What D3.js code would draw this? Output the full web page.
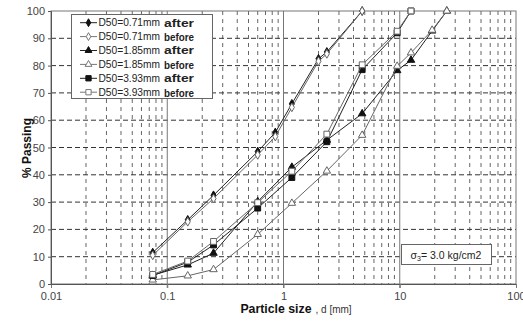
<!DOCTYPE html>
<html><head><meta charset="utf-8">
<script src="https://cdn.jsdelivr.net/npm/d3@7"></script>
<style>
body{margin:0;background:#fff}
svg{font-family:"Liberation Sans",Arial,sans-serif}
</style>
</head><body>
<svg id="c" width="523" height="327"></svg>
<script>
// ---- data ----
const sizes071 = [0.075, 0.15, 0.25, 0.6, 0.85, 1.18, 2.0, 2.36, 4.75];
const pass071After  = [11.5, 23.5, 32.5, 48.5, 55.5, 66.0, 82.5, 85.0, 100];
const pass071Before = [10.5, 22.8, 31.3, 47.3, 54.0, 64.7, 81.6, 84.3, 100];
const sizes185 = [0.075, 0.15, 0.25, 0.6, 1.18, 2.36, 4.75, 9.5, 12.5, 19, 25.4];
const pass185After  = [3.2, 7.0, 11.3, 30.2, 42.8, 52.7, 62.4, 78.2, 82.0, 92.7, 100];
const pass185Before = [1.5, 3.0, 5.3, 18.2, 29.6, 41.4, 54.5, 79.8, 84.7, 93.0, 100];
const sizes393 = [0.075, 0.15, 0.25, 0.6, 1.18, 2.36, 4.75, 9.5, 12.5];
const pass393After  = [3.1, 8.0, 14.3, 27.8, 39.0, 52.1, 78.5, 92.0, 100];
const pass393Before = [3.5, 8.4, 15.6, 29.8, 41.3, 54.9, 80.3, 92.6, 100];
const seriesNames = ["D50=0.71mm", "D50=0.71mm", "D50=1.85mm", "D50=1.85mm", "D50=3.93mm", "D50=3.93mm"];
const seriesStates = ["after", "before", "after", "before", "after", "before"];
const xTicks = [0.01, 0.1, 1, 10, 100];
const xTickLabels = ["0.01", "0.1", "1", "10", "100"];
const yTicks = [0, 10, 20, 30, 40, 50, 60, 70, 80, 90, 100];

const series = [
  {x: sizes071, y: pass071After,  sym: d3.symbolDiamond,  filled: true},
  {x: sizes071, y: pass071Before, sym: d3.symbolDiamond,  filled: false},
  {x: sizes185, y: pass185After,  sym: d3.symbolTriangle, filled: true},
  {x: sizes185, y: pass185Before, sym: d3.symbolTriangle, filled: false},
  {x: sizes393, y: pass393After,  sym: d3.symbolSquare,   filled: true},
  {x: sizes393, y: pass393Before, sym: d3.symbolSquare,   filled: false}
];
series.forEach((s, i) => { s.name = seriesNames[i]; s.state = seriesStates[i]; });

// ---- layout ----
const L = 51, R = 516, T = 11, B = 284;
const svg = d3.select("#c");
const x = d3.scaleLog().domain([0.01, 100]).range([L, R]);
const y = d3.scaleLinear().domain([0, 100]).range([B, T]);

svg.append("rect").attr("x", L).attr("y", T).attr("width", R - L).attr("height", B - T).attr("fill", "#fff");

// grid: minor verticals
const minor = [];
[0.01, 0.1, 1, 10].forEach(d => { for (let k = 2; k <= 9; k++) minor.push(k * d); });
svg.append("g").selectAll("line").data(minor).join("line")
  .attr("x1", d => x(d)).attr("x2", d => x(d)).attr("y1", T).attr("y2", B)
  .attr("stroke", "#666").attr("stroke-width", 1).attr("stroke-dasharray", "4,4");
// horizontal dashed
svg.append("g").selectAll("line").data(yTicks.filter(v => v > 0 && v < 100)).join("line")
  .attr("x1", L).attr("x2", R).attr("y1", d => y(d)).attr("y2", d => y(d))
  .attr("stroke", "#333").attr("stroke-width", 1).attr("stroke-dasharray", "5,3");
// decade solid lines
svg.append("g").selectAll("line").data([0.1, 1, 10]).join("line")
  .attr("x1", d => x(d)).attr("x2", d => x(d)).attr("y1", T).attr("y2", B + 4)
  .attr("stroke", "#777").attr("stroke-width", 1);

// frame
svg.append("rect").attr("x", L).attr("y", T).attr("width", R - L).attr("height", B - T)
  .attr("fill", "none").attr("stroke", "#777");

// axes
const xAxis = d3.axisBottom(x).tickValues(xTicks).tickFormat((d, i) => xTickLabels[i]).tickSize(4).tickPadding(4);
const gx = svg.append("g").attr("transform", `translate(0,${B})`).call(xAxis);
gx.select(".domain").attr("stroke", "#555");
gx.selectAll(".tick line").attr("stroke", "#777");
gx.selectAll("text").attr("font-size", 11).attr("fill", "#444").attr("font-family", "Liberation Sans, Arial, sans-serif");

const yAxis = d3.axisLeft(y).tickValues(yTicks).tickSize(3).tickPadding(3);
const gy = svg.append("g").attr("transform", `translate(${L},0)`).call(yAxis);
gy.select(".domain").attr("stroke", "#555");
gy.selectAll(".tick line").attr("stroke", "#555");
gy.selectAll("text").attr("font-size", 11).attr("fill", "#444").attr("font-family", "Liberation Sans, Arial, sans-serif");

// series
const line = d3.line().x(d => x(d[0])).y(d => y(d[1]));
series.forEach(s => {
  const pts = s.x.map((v, i) => [v, s.y[i]]);
  const col = s.filled ? "#222" : "#666";
  svg.append("path").datum(pts).attr("d", line).attr("fill", "none")
    .attr("stroke", col).attr("stroke-width", 1);
  const sz = s.sym === d3.symbolSquare ? 34 : (s.sym === d3.symbolTriangle ? 24 : 22);
  svg.append("g").selectAll("path").data(pts).join("path")
    .attr("transform", d => `translate(${x(d[0])},${y(d[1])})`)
    .attr("d", d3.symbol().type(s.sym).size(sz))
    .attr("fill", s.filled ? "#111" : "#fff")
    .attr("stroke", s.filled ? "#111" : "#666").attr("stroke-width", 1);
});

// legend
const lg = svg.append("g");
lg.append("rect").attr("x", 71.5).attr("y", 14.5).attr("width", 141).attr("height", 84)
  .attr("fill", "#fff").attr("stroke", "#666");
series.forEach((s, i) => {
  const cy = 22.7 + i * 13.9;
  const col = s.filled ? "#222" : "#777";
  lg.append("line").attr("x1", 80).attr("x2", 97).attr("y1", cy).attr("y2", cy).attr("stroke", col);
  const sz = s.sym === d3.symbolSquare ? 28 : (s.sym === d3.symbolTriangle ? 20 : 18);
  lg.append("path").attr("transform", `translate(88.5,${cy})`)
    .attr("d", d3.symbol().type(s.sym).size(sz))
    .attr("fill", s.filled ? "#111" : "#fff").attr("stroke", s.filled ? "#111" : "#777");
  lg.append("text").attr("x", 98.5).attr("y", cy + 3.6).attr("font-size", 10.2).attr("fill", "#222").text(s.name);
  lg.append("text").attr("x", 164).attr("y", cy + (s.state === "before" ? 4.5 : 3.8)).attr("font-size", 10.5)
    .attr("font-weight", "bold").attr("fill", "#222")
    .attr("textLength", 30).attr("lengthAdjust", "spacingAndGlyphs").text(s.state);
});

// sigma box
svg.append("rect").attr("x", 401.5).attr("y", 244.5).attr("width", 90).attr("height", 20)
  .attr("fill", "#fff").attr("stroke", "#666");
const st = svg.append("text").attr("x", 446).attr("y", 258.5).attr("text-anchor", "middle")
  .attr("font-size", 10.5).attr("fill", "#222");
st.append("tspan").text("σ");
st.append("tspan").attr("font-size", 7).attr("dy", 2).text("3");
st.append("tspan").attr("dy", -2).text("= 3.0 kg/cm2");

// axis titles
const xt = svg.append("text").attr("x", 296).attr("y", 313).attr("text-anchor", "middle").attr("fill", "#111");
xt.append("tspan").attr("font-size", 12.3).attr("font-weight", "bold").text("Particle size");
xt.append("tspan").attr("font-size", 10).attr("fill", "#333").attr("dx", 4).text(", d [mm]");

svg.append("text").attr("transform", "translate(31,148) rotate(-90)").attr("text-anchor", "middle")
  .attr("font-size", 12).attr("font-weight", "bold").attr("fill", "#111").text("% Passing");
</script>
</body></html>
